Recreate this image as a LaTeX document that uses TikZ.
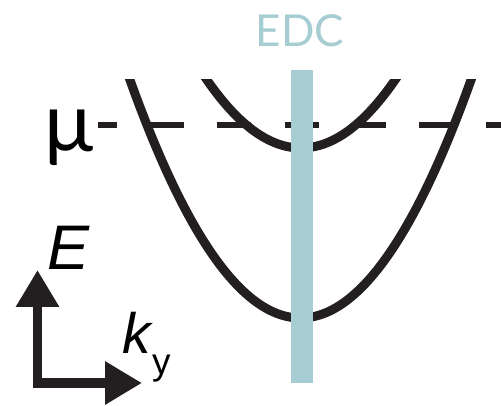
\documentclass[tikz,border=0pt]{standalone}
\usepackage{fontspec}
\setmainfont{Liberation Sans}
\newfontfamily\labelfont{Lato}
\usetikzlibrary{arrows.meta}
\definecolor{edcteal}{RGB}{166,205,210}
\definecolor{inkblack}{RGB}{35,31,32}
\begin{document}
\begin{tikzpicture}[x=1pt,y=-1pt,
  band/.style={line width=9pt, draw=inkblack},
  fermi/.style={line width=6pt, draw=inkblack, dash pattern=on 34pt off 33.2pt, dash phase=15pt},
  axisline/.style={line width=9.5pt, draw=inkblack, line join=miter,
    {Triangle[length=37pt 0, width=41pt 0]}-{Triangle[length=37pt 0, width=41pt 0]}},
  lbl/.style={inner sep=0pt, outer sep=0pt}]
\useasboundingbox (0,0) rectangle (501,406);
\fill[white] (0,0) rectangle (501,406);
% bands
\begin{scope}
  \clip (0,80) rectangle (501,406);
  \draw[band] plot[domain=122:479, samples=160] (\x, {318 - 238*((\x-300.5)/170.5)*((\x-300.5)/170.5)});
  \draw[band] plot[domain=198:404, samples=120] (\x, {148 - 68*((\x-301)/94)*((\x-301)/94)});
\end{scope}
% chemical potential
\coordinate (muL) at (98,125);
\coordinate (muR) at (501,125);
\draw[fermi] (muL) -- (muR);
% EDC cut
\fill[edcteal] (290.5,70) rectangle (312.5,383);
\node[lbl, anchor=base, text=edcteal, font=\labelfont\fontsize{44}{44}\selectfont] (edc) at (300,47) {EDC};
\node[lbl, anchor=base west, font=\labelfont\fontsize{82}{82}\selectfont] (mu) at (44,152) {μ};
% axes
\coordinate (origin) at (37.5,383);
\coordinate (etip) at (37.5,270);
\coordinate (ktip) at (142,383);
\draw[axisline] (etip) -- (origin) -- (ktip);
\node[lbl, anchor=base west, font=\itshape\fontsize{63}{63}\selectfont] (E) at (47,270) {E};
\node[lbl, anchor=base west, font=\itshape\fontsize{57}{57}\selectfont] (k) at (122,353) {k};
\node[lbl, anchor=base west, font=\fontsize{37}{37}\selectfont] (ysub) at (152,374) {y};
\end{tikzpicture}
\end{document}
